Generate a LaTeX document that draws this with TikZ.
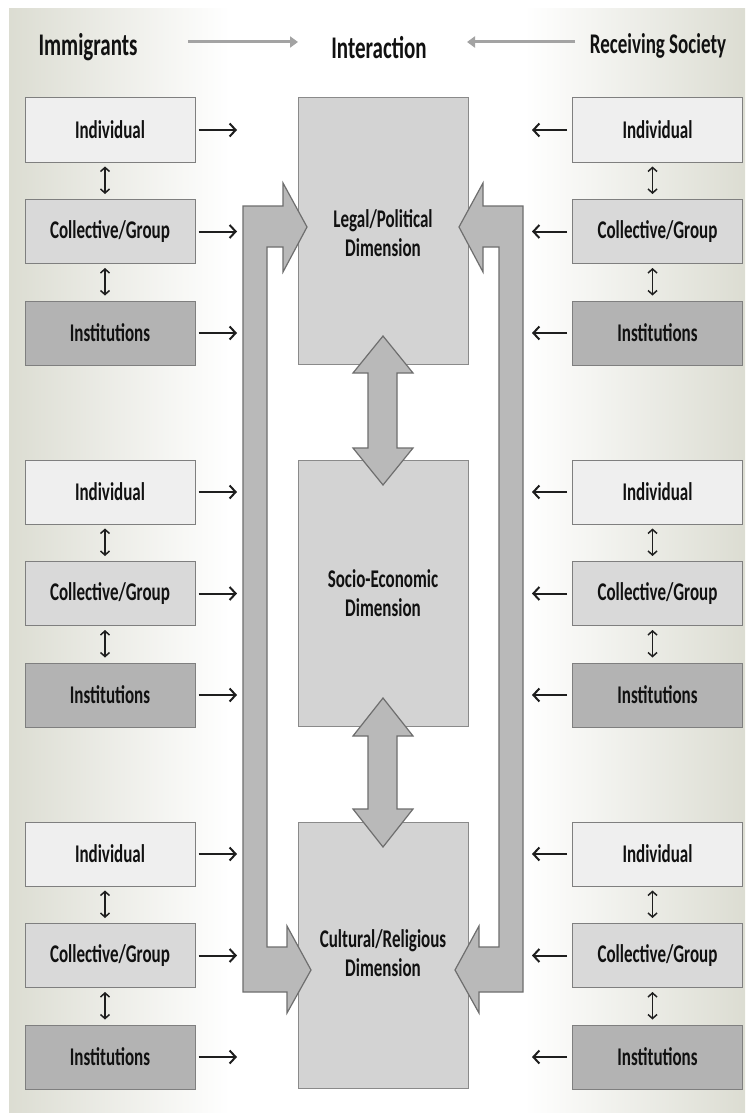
\documentclass[tikz,border=0pt]{standalone}
\usepackage{fontspec}
\usepackage{graphicx}
\setmainfont{Carlito}
\usetikzlibrary{arrows.meta}
\definecolor{bgedge}{HTML}{A09F87}
\definecolor{bgmid}{HTML}{D0D1C3}
\definecolor{indivfill}{HTML}{EFEFEF}
\definecolor{collfill}{HTML}{D9D9D9}
\definecolor{instfill}{HTML}{B3B3B3}
\definecolor{boxline}{HTML}{7F7F7F}
\definecolor{dimfill}{HTML}{D3D3D3}
\definecolor{dimline}{HTML}{8A8A8A}
\definecolor{bigfill}{HTML}{B9B9B9}
\definecolor{bigline}{HTML}{6E6E6E}
\definecolor{arrowc}{HTML}{1E1E1E}
\definecolor{headarr}{HTML}{A3A3A3}
\definecolor{txt}{HTML}{111111}
\pgfdeclarehorizontalshading{bgshade}{100bp}{color(0bp)=(bgedge); color(20bp)=(bgmid); color(40bp)=(white); color(60bp)=(white); color(80bp)=(bgmid); color(100bp)=(bgedge)}
\newcommand{\tx}[1]{\scalebox{1}[1.5]{#1}}
\begin{document}
\begin{tikzpicture}[x=1pt,y=-1pt,
  every node/.style={text=txt, font=\bfseries\fontsize{17}{20}\selectfont},
  sbox/.style={draw=boxline, line width=1pt, minimum width=170pt, minimum height=64pt, inner sep=0pt},
  indiv/.style={sbox, fill=indivfill},
  coll/.style={sbox, fill=collfill},
  inst/.style={sbox, fill=instfill},
  dimbox/.style={draw=dimline, fill=dimfill, line width=1pt, minimum width=170pt, minimum height=266pt, inner sep=0pt},
  harr/.style={line width=2pt, draw=arrowc, -{Straight Barb[length=6pt,width=13pt]}},
  varr/.style={line width=1.5pt, draw=arrowc, {Straight Barb[length=4pt,width=9pt]}-{Straight Barb[length=4pt,width=9pt]}, shorten <=4pt, shorten >=5pt},
  garr/.style={line width=3pt, draw=headarr, -{Triangle[length=8pt,width=11pt]}},
  bigarrow/.style={fill=bigfill, draw=bigline, line width=1.2pt, line join=miter},
  head/.style={inner sep=0pt}
]
\useasboundingbox (0,0) rectangle (745,1113);
\shade[shading=bgshade] (9,9) rectangle (745,1113);

% header
\node[head, font=\bfseries\fontsize{21}{24}\selectfont] (imm) at (88,47) {\tx{Immigrants}};
\node[head, font=\bfseries\fontsize{21}{24}\selectfont] (int) at (379,48) {\tx{Interaction}};
\node[head, font=\bfseries\fontsize{19}{22}\selectfont] (rec) at (658,46) {\tx{Receiving Society}};
\coordinate (ga1) at (188,42);
\coordinate (ga2) at (298,42);
\coordinate (gb1) at (575,42);
\coordinate (gb2) at (467,42);
\draw[garr] (ga1) -- (ga2);
\draw[garr] (gb1) -- (gb2);

% side boxes
\foreach \g/\T in {1/98,2/460,3/822}{
  \node[indiv] (li\g) at (110,\T+32) {\tx{Individual}};
  \node[coll]  (lc\g) at (110,\T+133.5) {\tx{Collective/Group}};
  \node[inst]  (ln\g) at (110,\T+235) {\tx{Institutions}};
  \node[indiv] (ri\g) at (657.5,\T+32) {\tx{Individual}};
  \node[coll]  (rc\g) at (657.5,\T+133.5) {\tx{Collective/Group}};
  \node[inst]  (rn\g) at (657.5,\T+235) {\tx{Institutions}};
  \coordinate (lie\g) at (237,\T+32);
  \coordinate (lce\g) at (237,\T+133.5);
  \coordinate (lne\g) at (237,\T+235);
  \coordinate (rie\g) at (532,\T+32);
  \coordinate (rce\g) at (532,\T+133.5);
  \coordinate (rne\g) at (532,\T+235);
  \draw[harr, shorten <=3pt] (li\g.east) -- (lie\g);
  \draw[harr, shorten <=3pt] (lc\g.east) -- (lce\g);
  \draw[harr, shorten <=3pt] (ln\g.east) -- (lne\g);
  \draw[harr, shorten <=5pt] (ri\g.west) -- (rie\g);
  \draw[harr, shorten <=5pt] (rc\g.west) -- (rce\g);
  \draw[harr, shorten <=5pt] (rn\g.west) -- (rne\g);
  \draw[varr] ([xshift=-5pt]li\g.south) -- ([xshift=-5pt]lc\g.north);
  \draw[varr] ([xshift=-5pt]lc\g.south) -- ([xshift=-5pt]ln\g.north);
  \draw[varr] ([xshift=-5pt]ri\g.south) -- ([xshift=-5pt]rc\g.north);
  \draw[varr] ([xshift=-5pt]rc\g.south) -- ([xshift=-5pt]rn\g.north);
}

% dimension boxes
\node[dimbox] (d1) at (383,231) {};
\node[dimbox] (d2) at (383,593) {};
\node[dimbox] (d3) at (383,955) {};

% big U arrows
\draw[bigarrow] (243,206) -- (283,206) -- (283,183) -- (307,227) -- (283,272) -- (283,247)
  -- (267,247) -- (267,947) -- (287,947) -- (287,926) -- (311,970) -- (287,1013) -- (287,992)
  -- (243,992) -- cycle;
\draw[bigarrow] (523,206) -- (483,206) -- (483,183) -- (459,227) -- (483,272) -- (483,247)
  -- (499,247) -- (499,947) -- (479,947) -- (479,926) -- (455,970) -- (479,1013) -- (479,992)
  -- (523,992) -- cycle;

% vertical double arrows
\draw[bigarrow] (383,336) -- (413,373) -- (397,373) -- (397,448) -- (413,448) -- (383,485)
  -- (353,448) -- (368,448) -- (368,373) -- (353,373) -- cycle;
\draw[bigarrow] (383,698) -- (413,736) -- (397,736) -- (397,809) -- (413,809) -- (383,847)
  -- (353,809) -- (368,809) -- (368,736) -- (353,736) -- cycle;

% dimension labels
\node[align=center, inner sep=0pt] (t1) at ([yshift=-5pt]d1.center) {\tx{\begin{tabular}{@{}c@{}}Legal/Political\\[-1pt]Dimension\end{tabular}}};
\node[align=center, inner sep=0pt] (t2) at ([yshift=-3pt]d2.center) {\tx{\begin{tabular}{@{}c@{}}Socio-Economic\\[-1pt]Dimension\end{tabular}}};
\node[align=center, inner sep=0pt] (t3) at ([yshift=-1pt]d3.center) {\tx{\begin{tabular}{@{}c@{}}Cultural/Religious\\[-1pt]Dimension\end{tabular}}};
\end{tikzpicture}
\end{document}
